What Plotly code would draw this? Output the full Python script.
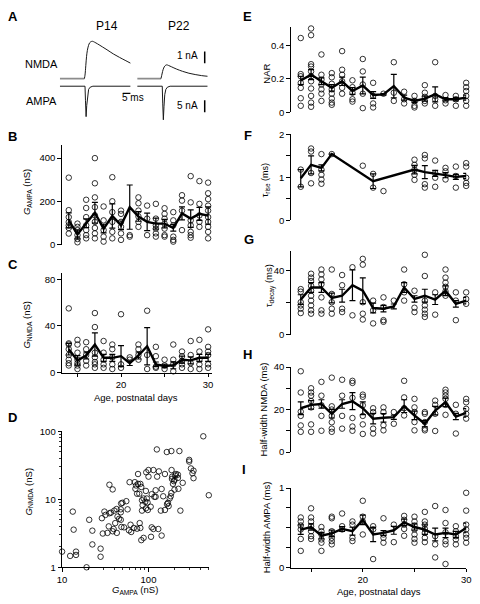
import plotly.graph_objects as go

W, H = 480, 604
FONT = "Liberation Sans, Arial, sans-serif"


def fx(p):
    return p / W


def fy(p):
    return 1 - p / H


# ---------------- Panel A: example currents ----------------
# P14 NMDA (ms, nA)
p14_nmda_base_t = [0, 15.6]
p14_nmda_base_i = [0, 0]
p14_nmda_t = [15.6, 16.0, 16.5, 17.0, 17.5, 18.2, 19.0, 20.0, 20.8, 22.0, 24.0, 27.0, 30.0, 34.0, 38.0, 42.0, 45.0]
p14_nmda_i = [0, 0.3, 1.1, 1.9, 2.4, 2.8, 3.05, 3.15, 3.17, 3.1, 2.95, 2.7, 2.45, 2.1, 1.8, 1.52, 1.31]
# P14 AMPA
p14_ampa_t = [0, 16.0, 16.3, 16.7, 17.1, 17.6, 18.3, 19.3, 21.0, 45.0]
p14_ampa_i = [0, 0, -6.0, -12.6, -8.0, -3.5, -1.3, -0.4, 0, 0]
# P22 NMDA
p22_nmda_base_t = [0, 15.2]
p22_nmda_base_i = [0, 0]
p22_nmda_t = [15.2, 15.6, 16.2, 16.9, 17.7, 18.75, 20.0, 22.0, 25.0, 29.0, 33.0, 37.0, 41.0, 45.0]
p22_nmda_i = [0, 0.25, 0.6, 0.9, 1.08, 1.17, 1.12, 1.0, 0.82, 0.62, 0.46, 0.35, 0.26, 0.2]
# P22 AMPA
p22_ampa_t = [0, 16.0, 16.3, 16.7, 17.1, 17.6, 18.3, 19.3, 21.0, 45.0]
p22_ampa_i = [0, 0, -7.0, -13.9, -8.5, -3.5, -1.3, -0.4, 0, 0]

# ---------------- Age panels ----------------
days = list(range(14, 31))

gampa_pts = [
    [310, 160, 128, 105, 90, 78, 52],
    [98, 83, 68, 45, 27, 12],
    [208, 170, 128, 90, 68, 45, 30],
    [400, 284, 219, 174, 136, 106, 78, 53, 30],
    [177, 113, 68, 38, 15],
    [312, 201, 151, 106, 60, 30],
    [158, 143, 106, 83, 53, 23],
    [463, 45, 38],
    [219, 192, 158, 131, 106, 83],
    [181, 121, 45],
    [189, 121, 90, 75, 53, 38],
    [169, 143, 121, 98, 75, 45, 38],
    [151, 113, 90, 38, 23, 15],
    [229, 204, 158, 68],
    [317, 196, 113, 90, 60, 45, 33],
    [294, 189, 136, 106, 83],
    [287, 238, 211, 181, 158, 128, 106, 83, 60, 30],
]
gampa_mean = [113, 48, 100, 148, 75, 133, 90, 174, 131, 106, 98, 98, 78, 145, 121, 143, 135]
gampa_sem = [35, 20, 20, 48, 20, 56, 20, 102, 22, 40, 25, 20, 15, 30, 40, 30, 40]

gnmda_pts = [
    [55, 25, 24, 20, 15, 11, 8, 6],
    [28, 24, 17, 11, 8, 6, 3],
    [26, 20, 15, 10, 6],
    [86, 51, 39, 17, 13, 9, 7, 4],
    [27, 17, 11, 7, 4],
    [24, 20, 13, 7, 3],
    [50, 7, 4],
    [13, 11],
    [24, 20, 15, 11],
    [53, 15, 3],
    [22, 14, 5, 4],
    [11, 6, 3],
    [24, 11, 7, 1],
    [18, 14, 10, 7, 4],
    [27, 15, 8, 3],
    [28, 18, 11, 7, 3],
    [37, 22, 18, 15, 7, 4],
]
gnmda_mean = [20, 10.4, 14.6, 24, 12.6, 12.6, 14, 8, 14.6, 22.5, 7, 5.6, 6.2, 11, 10.4, 12.6, 12.6]
gnmda_sem = [5, 4, 3, 10, 3, 3, 9, 2, 3, 16, 2, 1.5, 3, 3, 3, 3, 3]

# ---------------- Panel D: G_NMDA vs G_AMPA ----------------
d_gampa = [10, 12.4, 13.3, 13.6, 14.5, 14.5, 19.2, 20.6, 22.4, 22.4, 27.9, 27.9, 28.9, 29.6, 30.9,
           31.8, 33.5, 34.7, 35.3, 35.3, 36.8, 38.5, 38.5, 39.5, 40.2, 41.2, 42.7, 43.0, 43.8, 45.7,
           47.8, 47.8, 47.8, 48.2, 48.6, 49.9, 52.1, 55.4, 57.3, 59.4, 60.4, 62, 63.1, 67.6, 69.5,
           70.6, 71.9, 73.8, 73.8, 75.7, 75.7, 78.4, 79.1, 80.5, 80.5, 82.6, 82.6, 84.1, 84.1, 85.5,
           87.8, 87.8, 91.7, 93.3, 94.2, 93.3, 95.7, 97.5, 98.2, 100, 100, 106, 107, 109, 109,
           114, 114, 117, 121, 121, 125, 126, 130, 132, 139, 142, 142, 148, 155, 155,
           163, 164, 168, 171, 176, 181, 184, 184, 185, 187, 188, 192, 197, 200, 200,
           204, 208, 219, 219, 222, 228, 234, 249, 296, 296, 310, 323, 332, 332, 431, 499]
d_gnmda = [1.70, 1.47, 6.6, 3.58, 1.52, 1.70, 1.0, 5.0, 3.46, 2.17, 1.88, 1.43, 5.28, 3.14, 6.6,
           5.9, 3.21, 4.0, 6.24, 16.4, 6.38, 14.0, 3.39, 3.66, 6.82, 4.47, 7.2, 3.21, 5.58, 5.17,
           5.0, 6.45, 7.13, 8.7, 3.92, 8.9, 3.87, 9.4, 7.13, 3.5, 17.9, 4.23, 3.31, 3.79, 17.9,
           14.3, 16.0, 12.1, 3.7, 23.6, 16.9, 12.1, 4.47, 16.9, 3.79, 15.2, 2.51, 9.7, 6.82, 8.2,
           2.71, 10.3, 9.2, 7.37, 25.0, 13.3, 10.3, 9.0, 6.97, 21.6, 27.0, 7.79, 2.81, 11.9, 3.87,
           27.0, 3.66, 10.9, 10.9, 13.6, 54.3, 21.6, 3.66, 25.8, 6.82, 14.2, 2.93, 11.1, 23.6, 6.97,
           49.7, 8.5, 8.9, 7.96, 10.3, 11.1, 51.4, 12.4, 27.0, 20.0, 21.6, 16.9, 18.5, 19.4, 13.9,
           22.4, 23.6, 20.7, 23.1, 14.3, 51.4, 6.82, 17.5, 38.1, 36.0, 28.5, 24.2, 26.4, 20.5, 84.7, 11.5]

# ---------------- Right column ----------------
nar_pts = [
    [0.443, 0.228, 0.215, 0.176, 0.146, 0.084, 0.039],
    [0.5, 0.46, 0.287, 0.273, 0.244, 0.215, 0.185, 0.142, 0.098, 0.058, 0.033],
    [0.345, 0.224, 0.195, 0.166, 0.137, 0.111, 0.068],
    [0.234, 0.209, 0.17, 0.137, 0.111, 0.082, 0.058, 0.045],
    [0.365, 0.254, 0.224, 0.185, 0.146, 0.111],
    [0.191, 0.15, 0.117, 0.078, 0.064],
    [0.318, 0.244, 0.166, 0.111, 0.025],
    [0.176, 0.098, 0.053, 0.029],
    [0.111],
    [0.299, 0.117, 0.068],
    [0.123, 0.078, 0.053],
    [0.098, 0.068, 0.039, 0.029],
    [0.162, 0.117, 0.092, 0.068, 0.053],
    [0.299, 0.098, 0.078, 0.039],
    [0.103, 0.072, 0.053],
    [0.098, 0.078, 0.039],
    [0.176, 0.15, 0.127, 0.098, 0.068, 0.039],
]
nar_mean = [0.19, 0.225, 0.185, 0.146, 0.185, 0.127, 0.16, 0.103, 0.107, 0.156, 0.088, 0.068, 0.082, 0.107, 0.078, 0.078, 0.088]
nar_sem = [0.025, 0.03, 0.02, 0.02, 0.025, 0.02, 0.05, 0.02, 0.005, 0.07, 0.015, 0.01, 0.015, 0.045, 0.01, 0.01, 0.015]

trise_pts = [
    [1.18, 0.78],
    [1.67, 1.6, 1.1, 0.86],
    [1.54, 1.18, 1.06, 0.95, 0.85],
    [1.54],
    [],
    [],
    [1.27],
    [1.08, 0.76],
    [0.68],
    [],
    [],
    [1.41, 1.29, 1.18, 1.06, 0.94],
    [1.52, 1.44, 0.84, 0.76],
    [1.39, 1.1, 0.99, 0.78],
    [1.22, 1.14, 0.95],
    [1.25, 1.03, 0.76],
    [1.33, 1.25, 0.99, 0.87, 0.8],
]
trise_mean_days = [14, 15, 16, 17, 21, 25, 26, 27, 28, 29, 30]
trise_mean = [0.98, 1.29, 1.22, 1.54, 0.91, 1.18, 1.12, 1.09, 1.05, 1.01, 1.03]
trise_sem = [0.2, 0.21, 0.07, 0, 0.17, 0.1, 0.15, 0.07, 0.06, 0.06, 0.06]

tdecay_pts = [
    [28.3, 26.7, 20.2, 18.2, 16.2, 13.5],
    [53, 37.8, 35.4, 33.3, 30.3, 27.3, 24.2, 21.2, 18.2, 15.2, 13.1],
    [40.4, 37.4, 34.3, 31.3, 23.2, 15.2, 13.1],
    [40.4, 25.3, 20.2, 16.2, 13.1],
    [37, 30.7, 16.2, 14.1],
    [41.8, 12.1],
    [47, 43.4, 20.2, 13.1, 9.5],
    [21.2, 15.2, 7.1],
    [23.2, 17.2, 9.1, 8.1],
    [21.2],
    [40.4, 31.3, 26.3, 21.2],
    [27.3, 16.8, 14.1],
    [49.5, 36.4, 21.2, 18.2, 15.6, 13.1, 11.1],
    [26.3, 12.5],
    [40.4, 35.4, 32.3, 29.7, 26.9, 24.2],
    [26.3, 21.2, 9.1],
    [26.3, 22.2, 19.2],
]
tdecay_mean = [21.8, 29.3, 29.3, 22.8, 24.2, 30.7, 27.3, 16.6, 16.2, 17.6, 29.3, 22.2, 24.2, 21.8, 27.3, 19.2, 21.2]
tdecay_sem = [3, 3, 3, 3, 4, 9.5, 8, 3, 2, 1.5, 3, 2, 4, 3, 3, 2, 2]

hwn_pts = [
    [38, 28, 19, 17, 12.5, 9.5],
    [30, 28, 26.5, 24, 21, 13, 9.5],
    [33, 26.5, 22, 17, 10],
    [35, 21.5, 20, 17, 14, 11, 9.5],
    [34, 26.5, 17, 11],
    [33.5, 32.5, 25.5, 16, 12, 10],
    [27, 26, 22, 17, 13, 8.5],
    [20.6, 18.8, 11, 8.7],
    [21, 18.8, 12.6, 10.2],
    [18.8, 13.3],
    [33.5, 25.7, 20.6, 17.2],
    [25, 21, 18.8, 14.1, 10.2],
    [18.8, 18, 14.1, 11, 10.2],
    [24.2, 22.2, 18, 9.9],
    [29.3, 28, 26.5, 25, 22.2, 17.5],
    [22.2, 18, 8.7],
    [25, 23.4, 20.3, 18, 15.7],
]
hwn_mean = [20.6, 22.2, 22.6, 18, 22.6, 23.9, 20.6, 15.7, 16.1, 16.4, 21.6, 17.2, 13.3, 19.5, 23.4, 16.7, 18.4]
hwn_sem = [3, 2, 2, 2, 2, 4, 3, 2.5, 2, 1, 3, 2, 1.5, 2, 2, 1.5, 2]

hwa_pts = [
    [0.63, 0.58, 0.53, 0.48, 0.36, 0.21],
    [0.745, 0.63, 0.58, 0.52, 0.457, 0.395, 0.36],
    [0.51, 0.457, 0.416, 0.354, 0.313, 0.21],
    [0.64, 0.62, 0.457, 0.416, 0.374, 0.333, 0.292],
    [0.68, 0.52, 0.48],
    [0.58, 0.54, 0.374, 0.333],
    [0.84, 0.64, 0.58, 0.416],
    [0.52, 0.48, 0.107],
    [0.62, 0.416, 0.374, 0.313],
    [0.54, 0.32],
    [0.65, 0.60, 0.54, 0.486, 0.40],
    [0.64, 0.58, 0.53, 0.48, 0.416, 0.36, 0.313],
    [0.70, 0.58, 0.54, 0.486, 0.436, 0.374, 0.32],
    [0.774, 0.395, 0.292, 0.128],
    [0.724, 0.56, 0.444, 0.333, 0.292, 0.045],
    [0.52, 0.457, 0.395, 0.354, 0.292],
    [0.94, 0.716, 0.54, 0.48, 0.416, 0.374, 0.313],
]
hwa_mean = [0.477, 0.51, 0.40, 0.43, 0.486, 0.457, 0.60, 0.416, 0.436, 0.469, 0.568, 0.51, 0.477, 0.416, 0.436, 0.416, 0.498]
hwa_sem = [0.06, 0.04, 0.04, 0.04, 0.03, 0.05, 0.06, 0.09, 0.03, 0.05, 0.04, 0.04, 0.06, 0.08, 0.06, 0.04, 0.06]

fig = go.Figure()

# ---- Panel A traces ----
TRACE = "#1a1a1a"
BASE = "#8c8c8c"
fig.add_trace(go.Scatter(x=p14_nmda_base_t, y=p14_nmda_base_i, mode="lines", line=dict(color=BASE, width=1.6), xaxis="x", yaxis="y"))
fig.add_trace(go.Scatter(x=p14_nmda_t, y=p14_nmda_i, mode="lines", line=dict(color=TRACE, width=1, shape="spline"), xaxis="x", yaxis="y"))
fig.add_trace(go.Scatter(x=p14_ampa_t, y=p14_ampa_i, mode="lines", line=dict(color=TRACE, width=1), xaxis="x", yaxis="y2"))
fig.add_trace(go.Scatter(x=p22_nmda_base_t, y=p22_nmda_base_i, mode="lines", line=dict(color=BASE, width=1.6), xaxis="x2", yaxis="y"))
fig.add_trace(go.Scatter(x=p22_nmda_t, y=p22_nmda_i, mode="lines", line=dict(color=TRACE, width=1, shape="spline"), xaxis="x2", yaxis="y"))
fig.add_trace(go.Scatter(x=p22_ampa_t, y=p22_ampa_i, mode="lines", line=dict(color=TRACE, width=1), xaxis="x2", yaxis="y2"))

MARK = dict(symbol="circle-open", size=5.5, color="black", line=dict(width=0.8, color="black"))


def add_age_panel(pts, mdays, means, sems, xa, ya):
    xs = [d for d, p in zip(days, pts) for _ in p]
    ys = [v for p in pts for v in p]
    fig.add_trace(go.Scatter(x=xs, y=ys, mode="markers", marker=MARK, xaxis=xa, yaxis=ya, cliponaxis=False))
    fig.add_trace(go.Scatter(x=mdays, y=means, mode="lines", line=dict(color="black", width=2.4),
                             error_y=dict(type="data", array=sems, color="black", thickness=1.2, width=3),
                             xaxis=xa, yaxis=ya, cliponaxis=False))


add_age_panel(gampa_pts, days, gampa_mean, gampa_sem, "x3", "y3")
add_age_panel(gnmda_pts, days, gnmda_mean, gnmda_sem, "x4", "y4")
fig.add_trace(go.Scatter(x=d_gampa, y=d_gnmda, mode="markers", marker=MARK, xaxis="x5", yaxis="y5", cliponaxis=False))
add_age_panel(nar_pts, days, nar_mean, nar_sem, "x6", "y6")
add_age_panel(trise_pts, trise_mean_days, trise_mean, trise_sem, "x7", "y7")
add_age_panel(tdecay_pts, days, tdecay_mean, tdecay_sem, "x8", "y8")
add_age_panel(hwn_pts, days, hwn_mean, hwn_sem, "x9", "y9")
add_age_panel(hwa_pts, days, hwa_mean, hwa_sem, "x10", "y10")

TICKFONT = dict(family=FONT, size=9.5, color="black")


def axis(domain, rng, anchor, visible=True, tickvals=None, typ="linear", minor_vals=None,
         ticklen=3.5, minor_len=3.5, minor_width=1):
    d = dict(domain=domain, range=rng, anchor=anchor, type=typ, showgrid=False, zeroline=False,
             fixedrange=True)
    if not visible:
        d.update(visible=False)
        return d
    d.update(showline=True, linecolor="black", linewidth=1, ticks="outside", ticklen=ticklen,
             tickwidth=1, tickcolor="black", tickfont=TICKFONT)
    if tickvals is not None:
        d.update(tickmode="array", tickvals=tickvals, ticktext=[str(v) for v in tickvals])
    if minor_vals is not None:
        d.update(minor=dict(ticks="outside", ticklen=minor_len, tickwidth=minor_width, tickcolor="black",
                            tickmode="array", tickvals=minor_vals, showgrid=False))
    return d


LX = [fx(58), fx(211)]
LXR = [13.2, 30.4]
RX = [fx(291.7), fx(471)]
RXR = [13.02, 30]

layout_axes = dict(
    # Panel A
    xaxis=axis([fx(56), fx(128.3)], [0, 45], "y", visible=False),
    xaxis2=axis([fx(135), fx(207)], [0, 45], "y", visible=False),
    yaxis=axis([fy(80), fy(30)], [-0.5, 3.667], "x", visible=False),
    yaxis2=axis([fy(120), fy(70)], [-15.57, 4.756], "x", visible=False),
    # Panel B
    xaxis3=axis(LX, LXR, "y3", visible=False),
    yaxis3=axis([fy(243.3), fy(141.7)], [0, 460], "x3", tickvals=[0, 200, 400]),
    # Panel C
    xaxis4=axis(LX, LXR, "y4", tickvals=[20, 30], minor_vals=[15, 25]),
    yaxis4=axis([fy(373.3), fy(272.4)], [0, 85], "x4", tickvals=[0, 40, 80]),
    # Panel D
    xaxis5=axis([fx(58.3), fx(208.3)], [1, 2.70], "y5", typ="log", tickvals=[10, 100],
                minor_vals=[20, 30, 40, 50, 60, 70, 80, 90, 200, 300, 400, 500], minor_len=2, minor_width=0.8),
    yaxis5=axis([fy(571.7), fy(433.3)], [0, 2], "x5", typ="log", tickvals=[1, 10, 100],
                minor_vals=[2, 3, 4, 5, 6, 7, 8, 9, 20, 30, 40, 50, 60, 70, 80, 90], minor_len=2, minor_width=0.8),
    # Panel E
    xaxis6=axis(RX, RXR, "y6", visible=False),
    yaxis6=axis([fy(108.3), fy(21.2)], [0, 0.51], "x6", tickvals=[0, 0.2, 0.4]),
    # Panel F
    xaxis7=axis(RX, RXR, "y7", visible=False),
    yaxis7=axis([fy(218.3), fy(130.7)], [0, 2], "x7", tickvals=[0, 1, 2], minor_vals=[0.5, 1.5]),
    # Panel G
    xaxis8=axis(RX, RXR, "y8", visible=False),
    yaxis8=axis([fy(335), fy(249.3)], [0, 52], "x8", tickvals=[0, 40], minor_vals=[20]),
    # Panel H
    xaxis9=axis(RX, RXR, "y9", visible=False),
    yaxis9=axis([fy(454.3), fy(367.7)], [0, 40], "x9", tickvals=[0, 20, 40], minor_vals=[10, 30]),
    # Panel I
    xaxis10=axis(RX, RXR, "y10", tickvals=[20, 30], minor_vals=[15, 25]),
    yaxis10=axis([fy(572), fy(491)], [0, 1], "x10", tickvals=[0, 1], minor_vals=[0.25, 0.5, 0.75]),
)

annotations = []


def txt(x, y, s, size=9.5, xanchor="center", angle=0, bold=False):
    if bold:
        s = "<b>" + s + "</b>"
    annotations.append(dict(x=fx(x), y=fy(y), xref="paper", yref="paper", text=s, showarrow=False,
                            xanchor=xanchor, yanchor="middle", textangle=angle,
                            font=dict(family=FONT, size=size, color="black")))


# Panel letters
for letter, x, y in [("A", 1.5, 10.5), ("B", 1.5, 133.3), ("C", 1.5, 263.3), ("D", 1.5, 418.7),
                     ("E", 241.5, 10.5), ("F", 242.5, 131.7), ("G", 242.5, 237.7), ("H", 241.5, 354.7),
                     ("I", 240.5, 471.7)]:
    txt(x, y, letter, size=13, xanchor="left", bold=True)

# Panel A labels
txt(104, 20, "P14", size=12)
txt(178, 20, "P22", size=12)
txt(37, 59, "NMDA", size=11)
txt(37, 97, "AMPA", size=11)
txt(130.5, 93, "5 ms", size=10)
txt(199.5, 50.7, "1 nA", size=10, xanchor="right")
txt(199.5, 101.7, "5 nA", size=10, xanchor="right")

# Axis titles
txt(22, 190, "<i>G</i><sub>AMPA</sub> (nS)", angle=-90)
txt(23, 325, "<i>G</i><sub>NMDA</sub> (nS)", angle=-90)
txt(134, 399, "Age, postnatal days")
txt(24, 495, "<i>G</i><sub>NMDA</sub> (nS)", angle=-90)
txt(133, 594.5, "<i>G</i><sub>AMPA</sub> (nS)")
txt(267.5, 69, "NAR", angle=-90)
txt(266, 177, "τ<sub>rise</sub> (ms)", angle=-90, size=9)
txt(270, 285, "τ<sub>decay</sub> (ms)", angle=-90)
txt(264.5, 411, "Half-width NMDA (ms)", angle=-90)
txt(266.5, 531, "Half-width AMPA (ms)", angle=-90)
txt(382, 596.5, "Age, postnatal days")

# Scale bars (drawn in the trace axes' units)
shapes = [
    dict(type="line", xref="x2", yref="y", x0=43.1, x1=43.1, y0=1.3, y1=2.3, line=dict(color="black", width=1.5)),
    dict(type="line", xref="x2", yref="y2", x0=43.1, x1=43.1, y0=-10.8, y1=-5.8, line=dict(color="black", width=1.5)),
    dict(type="line", xref="x", yref="y2", x0=40, x1=45, y0=-2.97, y1=-2.97, line=dict(color="black", width=1.3)),
]

fig.update_layout(
    width=W, height=H, margin=dict(l=0, r=0, t=0, b=0),
    paper_bgcolor="white", plot_bgcolor="rgba(0,0,0,0)",
    showlegend=False, font=dict(family=FONT, size=9, color="black"),
    annotations=annotations, shapes=shapes,
    **layout_axes,
)

fig.write_html(
    "out.html",
    config={"displayModeBar": False, "staticPlot": True},
    post_script="document.body.style.margin='0';document.body.style.overflow='hidden';",
)
